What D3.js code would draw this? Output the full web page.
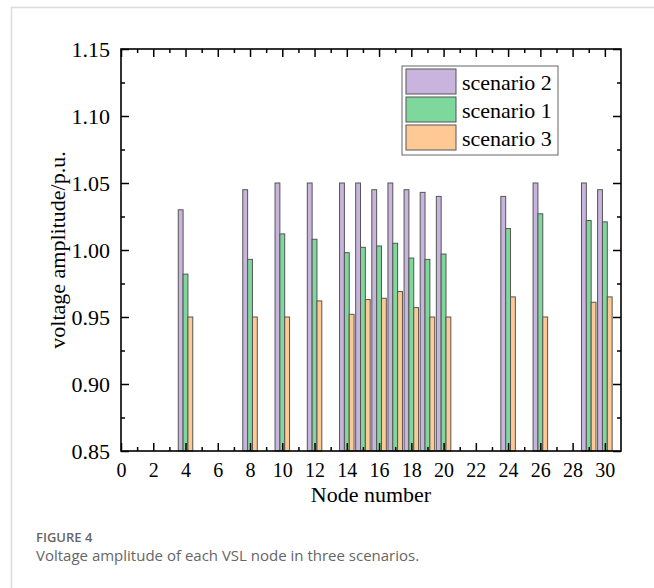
<!DOCTYPE html>
<html>
<head>
<meta charset="utf-8">
<script src="https://cdn.jsdelivr.net/npm/d3@7"></script>
<style>
body { margin: 0; background: #fff; }
text { font-family: "Liberation Serif", "Times New Roman", serif; fill: #000; }
.caption { font-family: "Open Sans", "Noto Sans", sans-serif; fill: #666; }
</style>
</head>
<body>
<svg id="chart" width="654" height="588"></svg>
<script>
// node numbers and voltage per scenario
var nodes = [4, 8, 10, 12, 14, 15, 16, 17, 18, 19, 20, 24, 26, 29, 30];
var scenario2 = [1.030, 1.045, 1.050, 1.050, 1.050, 1.050, 1.045, 1.050, 1.045, 1.043, 1.040, 1.040, 1.050, 1.050, 1.045];
var scenario1 = [0.982, 0.993, 1.012, 1.008, 0.998, 1.002, 1.003, 1.005, 0.994, 0.993, 0.997, 1.016, 1.027, 1.022, 1.021];
var scenario3 = [0.950, 0.950, 0.950, 0.962, 0.952, 0.963, 0.964, 0.969, 0.957, 0.950, 0.950, 0.965, 0.950, 0.961, 0.965];
var seriesNames = ["scenario 2", "scenario 1", "scenario 3"];
var xMajor = [0, 2, 4, 6, 8, 10, 12, 14, 16, 18, 20, 22, 24, 26, 28, 30];
var xMinor = [1, 3, 5, 7, 9, 11, 13, 15, 17, 19, 21, 23, 25, 27, 29];
var yMajor = [0.85, 0.90, 0.95, 1.00, 1.05, 1.10, 1.15];
var yMinor = [0.875, 0.925, 0.975, 1.025, 1.075, 1.125];

var colors = ["#c8b4dc", "#7ed89c", "#ffc996"];
var series = [scenario2, scenario1, scenario3];

var svg = d3.select("#chart");

// page frame lines
svg.append("line").attr("x1", 11).attr("x2", 654).attr("y1", 7.5).attr("y2", 7.5)
  .attr("stroke", "#dcdcdc").attr("stroke-width", 1.5);
svg.append("line").attr("x1", 11.5).attr("x2", 11.5).attr("y1", 7).attr("y2", 588)
  .attr("stroke", "#dcdcdc").attr("stroke-width", 1.5);

var pLeft = 121, pRight = 621, pTop = 49, pBottom = 451;
var x = d3.scaleLinear().domain([0, 31]).range([pLeft, pRight]);
var y = d3.scaleLinear().domain([0.85, 1.15]).range([pBottom, pTop]);
var bw = 0.3; // bar width in node units

var g = svg.append("g");

series.forEach(function(vals, s) {
  g.selectAll(".bar" + s).data(vals).enter().append("rect")
    .attr("x", function(d, i) { return x(nodes[i] - 1.5 * bw + s * bw); })
    .attr("width", x(bw) - x(0))
    .attr("y", function(d) { return y(d); })
    .attr("height", function(d) { return y(0.85) - y(d); })
    .attr("fill", colors[s])
    .attr("stroke", "#555")
    .attr("stroke-width", 1);
});

// axes with inward ticks
function noDomain(sel) { sel.select(".domain").remove(); }

svg.append("g").attr("transform", "translate(0," + pBottom + ")")
  .call(d3.axisBottom(x).tickValues(xMajor).tickSize(-8).tickPadding(12).tickFormat(d3.format("d")))
  .call(noDomain)
  .call(function(a) {
    a.selectAll("line").attr("stroke-width", 1.5);
    a.selectAll("text").attr("font-size", 20).attr("font-family", "Liberation Serif");
  });
svg.append("g").attr("transform", "translate(0," + pBottom + ")")
  .call(d3.axisBottom(x).tickValues(xMinor).tickSize(-4).tickFormat(""))
  .call(noDomain).selectAll("line").attr("stroke-width", 1.5);

svg.append("g").attr("transform", "translate(0," + pTop + ")")
  .call(d3.axisTop(x).tickValues(xMajor).tickSize(-8).tickFormat(""))
  .call(noDomain).selectAll("line").attr("stroke-width", 1.5);
svg.append("g").attr("transform", "translate(0," + pTop + ")")
  .call(d3.axisTop(x).tickValues(xMinor).tickSize(-4).tickFormat(""))
  .call(noDomain).selectAll("line").attr("stroke-width", 1.5);

svg.append("g").attr("transform", "translate(" + pLeft + ",0)")
  .call(d3.axisLeft(y).tickValues(yMajor).tickSize(-8).tickPadding(11).tickFormat(d3.format(".2f")))
  .call(noDomain)
  .call(function(a) {
    a.selectAll("line").attr("stroke-width", 1.5);
    a.selectAll("text").attr("font-size", 22).attr("font-family", "Liberation Serif");
  });
svg.append("g").attr("transform", "translate(" + pLeft + ",0)")
  .call(d3.axisLeft(y).tickValues(yMinor).tickSize(-4).tickFormat(""))
  .call(noDomain).selectAll("line").attr("stroke-width", 1.5);

svg.append("g").attr("transform", "translate(" + pRight + ",0)")
  .call(d3.axisRight(y).tickValues(yMajor).tickSize(-8).tickFormat(""))
  .call(noDomain).selectAll("line").attr("stroke-width", 1.5);
svg.append("g").attr("transform", "translate(" + pRight + ",0)")
  .call(d3.axisRight(y).tickValues(yMinor).tickSize(-4).tickFormat(""))
  .call(noDomain).selectAll("line").attr("stroke-width", 1.5);

// plot frame
svg.append("rect").attr("x", pLeft).attr("y", pTop)
  .attr("width", pRight - pLeft).attr("height", pBottom - pTop)
  .attr("fill", "none").attr("stroke", "#000").attr("stroke-width", 1.6);

// axis titles
svg.append("text").attr("x", (pLeft + pRight) / 2).attr("y", 502)
  .attr("text-anchor", "middle").attr("font-size", 22).text("Node number");
svg.append("text").attr("transform", "translate(65," + ((pTop + pBottom) / 2) + ") rotate(-90)")
  .attr("text-anchor", "middle").attr("font-size", 22).text("voltage amplitude/p.u.");

// legend
var lg = svg.append("g").attr("transform", "translate(402,66)");
lg.append("rect").attr("width", 156).attr("height", 89)
  .attr("fill", "#fff").attr("stroke", "#666").attr("stroke-width", 1);
seriesNames.forEach(function(name, i) {
  lg.append("rect").attr("x", 4).attr("y", 3 + i * 28).attr("width", 50).attr("height", 25)
    .attr("fill", colors[i]).attr("stroke", "#555").attr("stroke-width", 1);
  lg.append("text").attr("x", 60).attr("y", 24 + i * 28).attr("font-size", 22).text(name);
});

// caption
svg.append("text").attr("class", "caption").attr("x", 36).attr("y", 542)
  .attr("font-size", 13).attr("font-weight", 600).text("FIGURE 4");
svg.append("text").attr("class", "caption").attr("x", 36).attr("y", 561)
  .attr("font-size", 15).text("Voltage amplitude of each VSL node in three scenarios.");
</script>
</body>
</html>
